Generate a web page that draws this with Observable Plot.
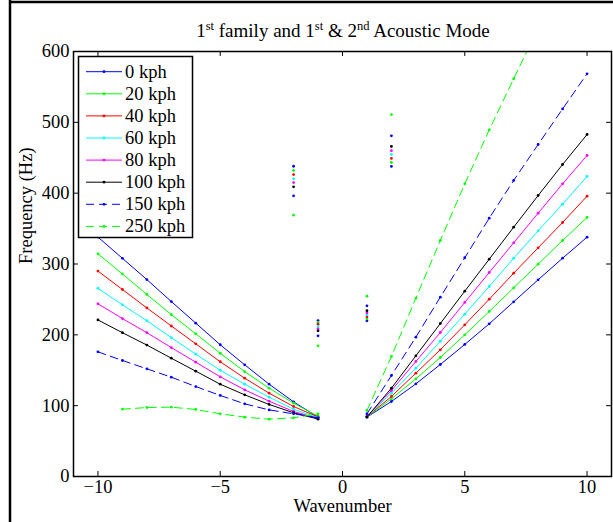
<!DOCTYPE html>
<html><head><meta charset="utf-8">
<script src="https://cdn.jsdelivr.net/npm/d3@7"></script>
<script src="https://cdn.jsdelivr.net/npm/@observablehq/plot@0.6"></script>
<style>
html,body{margin:0;padding:0;background:#fff}
svg{display:block}
</style>
</head><body><div id="chart"></div>
<script>
// ---- data ----
const seriesNames = ["0 kph","20 kph","40 kph","60 kph","80 kph","100 kph","150 kph","250 kph"];
const seriesColors = ["#0000ff","#00ff00","#ff0000","#00ffff","#ff00ff","#000000","#0000ff","#00ff00"];
const seriesDashed = [false,false,false,false,false,false,true,true];

const kNeg = [-10,-9,-8,-7,-6,-5,-4,-3,-2,-1];
const kPos = [1,2,3,4,5,6,7,8,9,10];

// lower branch, negative wavenumbers (Hz)
const neg0   = [338,308,278,247,216.5,186,157.7,130.3,105.4,83.8];
const neg20  = [314.4,286,257,228.5,201.4,174,148,124.7,103.5,85];
const neg40  = [290,264,238,212.5,187.3,162,138.8,117.6,98.8,84];
const neg60  = [265.6,242.4,220,196,172.7,150,130.3,112,95,83];
const neg80  = [243.8,223,203,182,161.4,140.7,122.4,106.3,91.8,82];
const neg100 = [221,203,185.6,167,148.7,130.3,115.3,101.7,90,81];
const neg150 = [176,163.8,152,140.2,127,114.4,102.6,94,88.5,82.9];
const neg250 = [null,95,97.4,97.9,94.6,88.5,83.8,81,82.8,88.5];

// lower branch, positive wavenumbers (Hz)
const pos0   = [83.8,105.9,130.8,158.1,186.4,215.6,246.6,277.7,308.2,337.9];
const pos20  = [84,109.7,137.9,168,200,233,266.4,299.8,333.2,365.7];
const pos40  = [84.5,113,145.9,178.9,214.2,250.3,287,322.9,358.6,395.8];
const pos60  = [85,117.6,152.9,191,229.2,268.3,308.2,346.9,384.5,423.6];
const pos80  = [85,121.4,162.4,203.3,245.7,288,329.9,371.8,413.2,453.2];
const pos100 = [84,124.7,170.4,216,261.6,306.8,352,396.7,440.5,482.8];
const pos150 = [88.5,142.6,196.7,253.2,308.8,364.7,418,468.7,519,568.5];
const pos250 = [93.2,169.4,251.8,333.2,413.2,489.4,561.5,633,null,null];

// acoustic-mode points, one value per series (Hz)
const kAcoustic = [-2,-1,1,2];
const acousticKm2 = [438,432,426.3,420.3,415,409,396.3,369];
const acousticKm1 = [220.2,217.4,215,211.8,208.5,205.7,198.6,184.5];
const acousticKp1 = [219.8,222.6,225.5,228.3,231,234,241,254.6];
const acousticKp2 = [437.7,443.3,449,454.6,460,466,481,511];

const xTicks = [-10,-5,0,5,10];
const yTicks = [0,100,200,300,400,500,600];

// ---- build tables ----
const negAll = [neg0,neg20,neg40,neg60,neg80,neg100,neg150,neg250];
const posAll = [pos0,pos20,pos40,pos60,pos80,pos100,pos150,pos250];
const acAll = [acousticKm2,acousticKm1,acousticKp1,acousticKp2];

const branchRows = [];
seriesNames.forEach((s,i) => {
  kNeg.forEach((k,j) => { if (negAll[i][j] != null) branchRows.push({series:s, idx:i, part:"neg", k, f:negAll[i][j]}); });
  kPos.forEach((k,j) => { if (posAll[i][j] != null) branchRows.push({series:s, idx:i, part:"pos", k, f:posAll[i][j]}); });
});
const acousticRows = [];
kAcoustic.forEach((k,j) => acAll[j].forEach((f,i) => acousticRows.push({series:seriesNames[i], idx:i, k, f})));

const font = "'Liberation Serif','Times New Roman',serif";
const FS = 18.5;
const colorOf = d => seriesColors[d.idx];

const marks = [];
seriesNames.forEach((s,i) => {
  const rows = branchRows.filter(d => d.idx === i);
  marks.push(Plot.line(rows, {x:"k", y:"f", z:"part", stroke: seriesColors[i], strokeWidth: 1,
    strokeDasharray: seriesDashed[i] ? "8,5" : null, clip: true}));
  marks.push(Plot.dot(rows, {x:"k", y:"f", r: 1.4, fill: seriesColors[i], stroke: "none", clip: true}));
});
marks.push(Plot.dot(acousticRows, {x:"k", y:"f", r: 1.4, fill: colorOf, stroke: "none"}));

// inward ticks (box style)
marks.push(Plot.ruleX(xTicks, {x: d => d, y1: 0, y2: 7, stroke: "#000", strokeWidth: 1}));
marks.push(Plot.ruleX(xTicks, {x: d => d, y1: 600, y2: 593, stroke: "#000", strokeWidth: 1}));
marks.push(Plot.ruleY(yTicks, {y: d => d, x1: -11, x2: -10.8, stroke: "#000", strokeWidth: 1}));
marks.push(Plot.ruleY(yTicks, {y: d => d, x1: 11, x2: 10.8, stroke: "#000", strokeWidth: 1}));
marks.push(Plot.frame({stroke: "#000", strokeWidth: 1.5}));

marks.push(Plot.axisX({ticks: xTicks, tickSize: 0, tickPadding: 3, fontSize: FS, label: null}));
marks.push(Plot.axisY({ticks: yTicks, tickSize: 0, tickPadding: 4, fontSize: FS, label: null}));
marks.push(Plot.text(["Wavenumber"], {frameAnchor: "bottom", dy: 35.5, fontSize: FS, fill: "#000"}));
marks.push(Plot.text(["Frequency (Hz)"], {frameAnchor: "left", dx: -47, rotate: -90, fontSize: FS, fill: "#000"}));

const chart = Plot.plot({
  width: 613, height: 522,
  marginLeft: 73, marginRight: 2, marginTop: 51, marginBottom: 46,
  x: {domain: [-11, 11]},
  y: {domain: [0, 600]},
  style: {fontFamily: font, fontSize: FS + "px", color: "#000", background: "#fff"},
  marks
});

const svg = d3.select(chart);
// figure border lines
svg.append("line").attr("x1", 10).attr("x2", 10).attr("y1", 0).attr("y2", 522).attr("stroke", "#000").attr("stroke-width", 2.5);
svg.append("line").attr("x1", 9).attr("x2", 613).attr("y1", 2).attr("y2", 2).attr("stroke", "#000").attr("stroke-width", 2.5);

// title with superscripts
const title = svg.append("text").attr("x", 343).attr("y", 37).attr("text-anchor", "middle")
  .attr("font-family", font).attr("font-size", 19).attr("fill", "#000");
const parts = [["1",0],["st",1],[" family and 1",0],["st",1],[" & 2",0],["nd",1],[" Acoustic Mode",0]];
let up = false;
parts.forEach(([t,sup]) => {
  const ts = title.append("tspan").text(t);
  if (sup) { ts.attr("font-size", 12.5).attr("dy", up ? 0 : -7); up = true; }
  else { ts.attr("dy", up ? 7 : 0); up = false; }
});

// legend
const lg = svg.append("g").attr("font-family", font).attr("font-size", FS).attr("text-anchor", "start");
lg.append("rect").attr("x", 78.5).attr("y", 56.5).attr("width", 114).attr("height", 181)
  .attr("fill", "#fff").attr("stroke", "#000").attr("stroke-width", 1.5);
seriesNames.forEach((s,i) => {
  const y = 71.7 + i * 22.1;
  lg.append("line").attr("x1", 86).attr("x2", 122).attr("y1", y).attr("y2", y)
    .attr("stroke", seriesColors[i]).attr("stroke-width", 1)
    .attr("stroke-dasharray", seriesDashed[i] ? "8,5" : null);
  lg.append("circle").attr("cx", 104).attr("cy", y).attr("r", 1.4).attr("fill", seriesColors[i]);
  lg.append("text").attr("x", 125).attr("y", y + 6).attr("fill", "#000").attr("text-anchor", "start").text(s);
});

document.getElementById("chart").append(chart);
</script>
</body></html>
